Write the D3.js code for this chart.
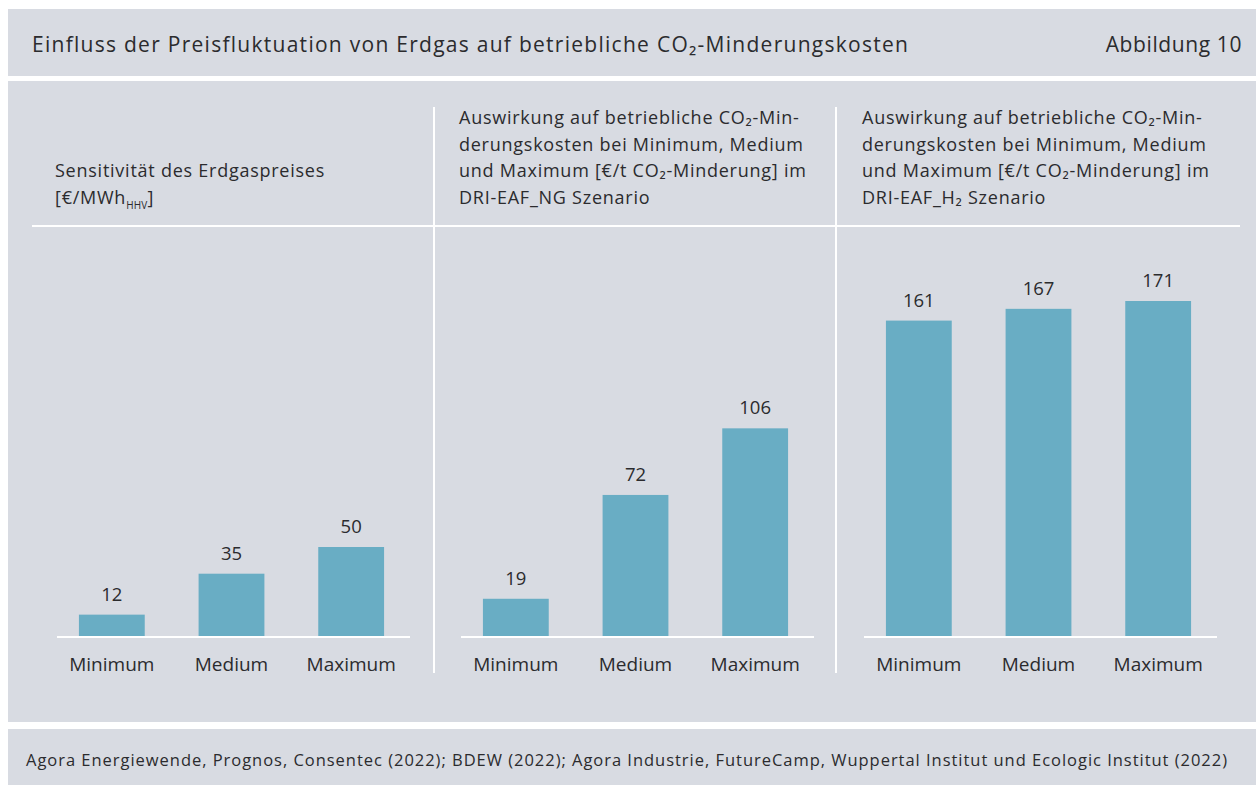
<!DOCTYPE html>
<html>
<head>
<meta charset="utf-8">
<script src="https://cdn.jsdelivr.net/npm/d3@7"></script>
<style>
  html, body { margin: 0; padding: 0; background: #fff; }
  svg { display: block; font-family: "Open Sans", "DejaVu Sans", sans-serif; }
</style>
</head>
<body>
<svg id="chart" width="1256" height="785"></svg>
<script>
/* Einfluss der Preisfluktuation von Erdgas – drei Säulen-Panels */
const categories = ["Minimum", "Medium", "Maximum"];
const gasPrice = [12, 35, 50];       // €/MWh_HHV
const costNG   = [19, 72, 106];      // €/t CO2, DRI-EAF_NG
const costH2   = [161, 167, 171];    // €/t CO2, DRI-EAF_H2

const chartTitle = "Einfluss der Preisfluktuation von Erdgas auf betriebliche CO₂-Minderungskosten";
const figLabel = "Abbildung 10";
const source = "Agora Energiewende, Prognos, Consentec (2022); BDEW (2022); Agora Industrie, FutureCamp, Wuppertal Institut und Ecologic Institut (2022)";

const headNG = ["Auswirkung auf betriebliche CO₂-Min-", "derungskosten bei Minimum, Medium",
                "und Maximum [€/t CO₂-Minderung] im", "DRI-EAF_NG Szenario"];
const headH2 = ["Auswirkung auf betriebliche CO₂-Min-", "derungskosten bei Minimum, Medium",
                "und Maximum [€/t CO₂-Minderung] im", "DRI-EAF_H₂ Szenario"];

const BG = "#D8DBE2", BAR = "#69ADC4", INK = "#2B2B2E";

const svg = d3.select("#chart");

// Hintergrundflächen
svg.append("rect").attr("x", 8).attr("y", 9).attr("width", 1248).attr("height", 67).attr("fill", BG);
svg.append("rect").attr("x", 8).attr("y", 81).attr("width", 1248).attr("height", 641).attr("fill", BG);
svg.append("rect").attr("x", 8).attr("y", 729).attr("width", 1248).attr("height", 56).attr("fill", BG);

svg.append("text").attr("x", 32).attr("y", 52).attr("font-size", 21).attr("letter-spacing", 1.27)
  .attr("fill", INK).text(chartTitle);
svg.append("text").attr("x", 1242).attr("y", 52).attr("font-size", 21).attr("letter-spacing", 0.6)
  .attr("fill", INK).attr("text-anchor", "end").text(figLabel);
svg.append("text").attr("x", 26).attr("y", 766).attr("font-size", 16.5).attr("letter-spacing", 0.97)
  .attr("fill", INK).text(source);

// Trennlinien
svg.append("line").attr("x1", 32).attr("x2", 1240).attr("y1", 226).attr("y2", 226)
  .attr("stroke", "#fff").attr("stroke-width", 2);
[434, 836].forEach(x => svg.append("line").attr("x1", x).attr("x2", x).attr("y1", 107).attr("y2", 673)
  .attr("stroke", "#fff").attr("stroke-width", 2));

const BASE = 636;
const yGas  = d3.scaleLinear().domain([0, 50]).range([BASE, 547]);
const yCost = d3.scaleLinear().domain([0, 171]).range([BASE, 301]);

const panels = [
  { x0: 0,   values: gasPrice, y: yGas,  head: null },
  { x0: 404, values: costNG,   y: yCost, head: headNG },
  { x0: 807, values: costH2,   y: yCost, head: headH2 }
];

panels.forEach((p, i) => {
  const g = svg.append("g").attr("transform", `translate(${p.x0},0)`);
  const x = d3.scaleBand().domain(categories).range([52, 411]).paddingInner(0.45).paddingOuter(0.225);
  const rows = categories.map((c, k) => ({ c, v: p.values[k] }));

  // Kopftext
  const tx = 55;
  if (p.head) {
    g.append("g").selectAll("text").data(p.head).join("text")
      .attr("x", tx).attr("y", (d, k) => 124 + k * 26.7)
      .attr("font-size", 18).attr("letter-spacing", 0.75).attr("fill", INK).text(d => d);
  } else {
    g.append("text").attr("x", tx).attr("y", 177.4).attr("font-size", 18).attr("letter-spacing", 0.75)
      .attr("fill", INK).text("Sensitivität des Erdgaspreises");
    const t = g.append("text").attr("x", tx).attr("y", 204).attr("font-size", 18)
      .attr("letter-spacing", 0.75).attr("fill", INK);
    t.append("tspan").text("[€/MWh");
    t.append("tspan").attr("font-size", 10).attr("letter-spacing", 0.2).attr("dy", 5).text("HHV");
    t.append("tspan").attr("dy", -5).text("]");
  }

  g.selectAll("rect.bar").data(rows).join("rect").attr("class", "bar")
    .attr("x", d => x(d.c)).attr("width", x.bandwidth())
    .attr("y", d => p.y(d.v)).attr("height", d => BASE - p.y(d.v))
    .attr("fill", BAR);

  g.selectAll("text.val").data(rows).join("text").attr("class", "val")
    .attr("x", d => x(d.c) + x.bandwidth() / 2).attr("y", d => p.y(d.v) - 14)
    .attr("text-anchor", "middle").attr("font-size", 18.5).attr("fill", INK)
    .text(d => d.v);

  g.append("line").attr("x1", 57).attr("x2", 410).attr("y1", BASE + 1).attr("y2", BASE + 1)
    .attr("stroke", "#fff").attr("stroke-width", 2);

  g.selectAll("text.cat").data(rows).join("text").attr("class", "cat")
    .attr("x", d => x(d.c) + x.bandwidth() / 2).attr("y", 671)
    .attr("text-anchor", "middle").attr("font-size", 19).attr("fill", INK)
    .text(d => d.c);
});
</script>
</body>
</html>
